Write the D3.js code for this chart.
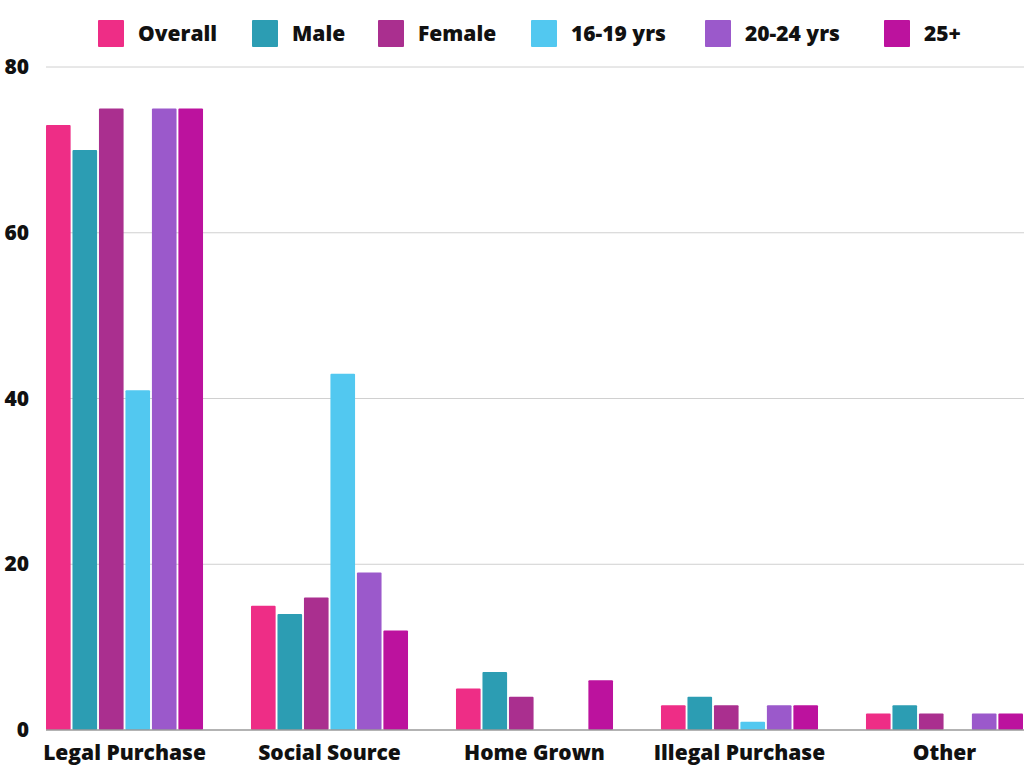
<!DOCTYPE html>
<html><head><meta charset="utf-8">
<script src="https://cdn.jsdelivr.net/npm/d3@7"></script>
<style>body{margin:0;background:#fff}svg{display:block;font-family:"Open Sans",Lato,sans-serif}</style>
</head><body><svg id="c" width="1024" height="768"></svg>
<script>
const categories = ["Legal Purchase","Social Source","Home Grown","Illegal Purchase","Other"];
const seriesNames = ["Overall","Male","Female","16-19 yrs","20-24 yrs","25+"];
const seriesColors = ["#EE2D86","#2C9DB3","#AA2F8F","#52C8F0","#9B59CB","#BC129E"];
const overall = [73,15,5,3,2];
const male = [70,14,7,4,3];
const female = [75,16,4,3,2];
const age1619 = [41,43,0,1,0];
const age2024 = [75,19,0,3,2];
const age25 = [75,12,6,3,2];
const yTicks = [0,20,40,60,80];
const seriesValues = [overall,male,female,age1619,age2024,age25];

(function(){
const svg = d3.select("#c");
const FONT = "'Open Sans', sans-serif";
const mLeft = 46, mRight = 1024, mTop = 67, mBottom = 730;
const y = d3.scaleLinear().domain([0,80]).range([mBottom, mTop]);
const x0 = d3.scaleBand().domain(categories).range([mLeft, 1023]).paddingInner(0.234).paddingOuter(0);
const x1 = d3.scaleBand().domain(seriesNames).range([0, x0.bandwidth()]).paddingInner(0.07);

svg.append("g").selectAll("line").data(yTicks.filter(d=>d>0)).join("line")
  .attr("x1", mLeft).attr("x2", mRight).attr("y1", d=>y(d)).attr("y2", d=>y(d))
  .attr("stroke", "#d0d0d0").attr("stroke-width", 1);

const yAxis = d3.axisLeft(y).tickValues(yTicks).tickSize(0).tickPadding(0);
const ya = svg.append("g").attr("transform", "translate(29,0)").call(yAxis);
ya.select(".domain").remove();
ya.selectAll("text").attr("font-size", 21).attr("font-weight", 800).attr("fill", "#111")
  .attr("font-family", FONT).attr("dy", "0.32em");

const groups = svg.append("g").selectAll("g").data(categories).join("g")
  .attr("transform", c => `translate(${x0(c)},0)`);
groups.selectAll("rect").data((c,i) => seriesNames.map((s,j)=>({s, v: seriesValues[j][i], color: seriesColors[j]})))
  .join("rect")
  .attr("x", d => x1(d.s)).attr("width", x1.bandwidth())
  .attr("y", d => y(d.v)).attr("height", d => y(0) - y(d.v))
  .attr("fill", d => d.color).attr("rx", 1);

svg.append("line").attr("x1", mLeft).attr("x2", mRight).attr("y1", y(0)).attr("y2", y(0))
  .attr("stroke", "#9a9a9a").attr("stroke-width", 1.5);

const xAxis = d3.axisBottom(x0).tickSize(0).tickPadding(0);
const xa = svg.append("g").attr("transform", `translate(0,${mBottom})`).call(xAxis);
xa.select(".domain").remove();
xa.selectAll("text").attr("font-size", 21).attr("font-weight", 800).attr("fill", "#111")
  .attr("font-family", FONT).attr("y", 30).attr("dy", 0);

const legendX = [98,252,378,531,705,884];
const lg = svg.append("g").selectAll("g").data(seriesNames).join("g")
  .attr("transform", (d,i) => `translate(${legendX[i]},20)`);
lg.append("rect").attr("width", 26).attr("height", 27).attr("rx", 1).attr("fill", (d,i)=>seriesColors[i]);
lg.append("text").attr("x", 40).attr("y", 21).text(d=>d)
  .attr("font-size", 21).attr("font-weight", 800).attr("fill", "#111").attr("font-family", FONT);
})();
</script></body></html>
